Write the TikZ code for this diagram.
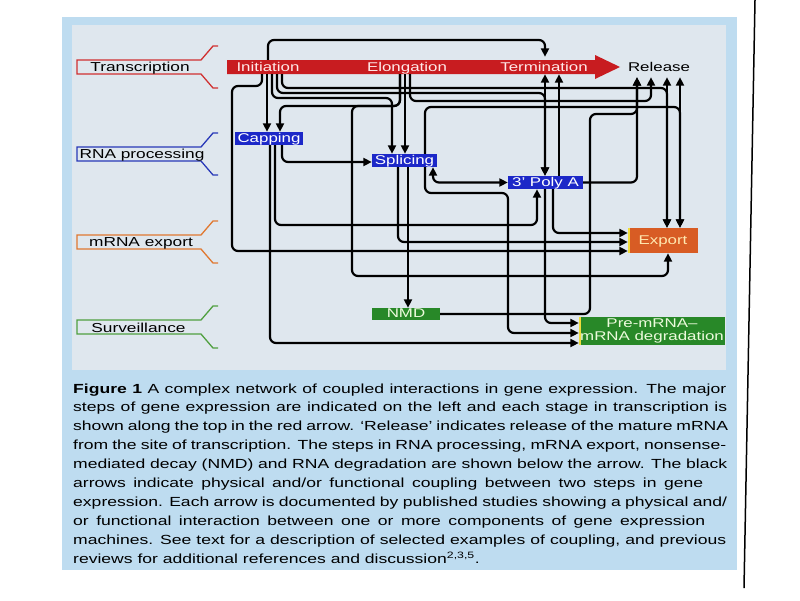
\documentclass[tikz,border=0pt]{standalone}
\usepackage{fontspec}
\setmainfont[FakeStretch=1.33]{Liberation Sans}
\usetikzlibrary{arrows.meta}
\definecolor{panelblue}{RGB}{190,220,240}
\definecolor{innerbg}{RGB}{223,231,238}
\definecolor{arrowred}{RGB}{200,28,32}
\definecolor{boxblue}{RGB}{28,40,200}
\definecolor{boxorange}{RGB}{216,92,36}
\definecolor{boxgreen}{RGB}{40,136,40}
\definecolor{labred}{RGB}{208,48,48}
\definecolor{labblue}{RGB}{40,56,184}
\definecolor{laborange}{RGB}{224,120,48}
\definecolor{labgreen}{RGB}{80,160,64}
\definecolor{paletext}{RGB}{255,232,232}
\definecolor{exptext}{RGB}{255,232,176}
\definecolor{grntext}{RGB}{236,250,220}
\definecolor{misreg}{RGB}{240,220,60}
\newcommand{\capline}[2]{\makebox[#1][s]{#2}}
\begin{document}
\begin{tikzpicture}[x=1pt,y=-1pt,
  conn/.style={line width=2.2pt, rounded corners=6pt, -{Triangle[length=8.5pt,width=8pt]}},
  dconn/.style={line width=2.2pt, rounded corners=6pt, {Triangle[length=8.5pt,width=8pt]}-{Triangle[length=8.5pt,width=8pt]}},
  stagetext/.style={font=\fontsize{12.7}{14}\selectfont, text=paletext, inner sep=0pt, minimum height=14pt, text height=9.3pt, text depth=0pt},
  labtext/.style={font=\fontsize{13}{15}\selectfont, inner sep=0pt, text height=9.3pt, text depth=0pt},
  procbox/.style={inner sep=0pt, text height=10.3pt, text depth=2.7pt, font=\fontsize{12.7}{14}\selectfont, text=white},
  captext/.style={anchor=base west, inner sep=0pt, font=\fontsize{13.2}{16}\selectfont},
  bracket/.style={line width=1.3pt}
]
\useasboundingbox (0,0) rectangle (800,600);
\fill[white] (0,0) rectangle (800,600);
% panel
\fill[panelblue] (62,17) rectangle (737,570);
\fill[innerbg] (72,25) rectangle (726,370);
% page edge
\draw[line width=1.5pt] (755,0) -- (744,588);

% red stage arrow
\fill[arrowred] (227,60) -- (595,60) -- (595,55) -- (620,67) -- (595,79) -- (595,74) -- (227,74) -- cycle;
\node[stagetext] (init) at (268,67) {Initiation};
\node[stagetext] (elong) at (407,67) {Elongation};
\node[stagetext] (term) at (544,67) {Termination};
\node[stagetext, text=black, minimum height=20pt] (release) at (659,67) {Release};

% left labels
\foreach \c/\col in {67/labred, 154/labblue, 242/laborange, 327/labgreen} {
  \draw[bracket, \col] (218,{\c-21}) -- (213,{\c-21}) -- (201,{\c-7}) -- (77,{\c-7}) -- (77,{\c+7}) -- (201,{\c+7}) -- (213,{\c+21}) -- (218,{\c+21});
}
\node[labtext] (ltrans) at (140,67) {Transcription};
\node[labtext] (lproc) at (142,153.5) {RNA processing};
\node[labtext] (lexp) at (141,241.5) {mRNA export};
\node[labtext] (lsurv) at (138.5,327.5) {Surveillance};

% process boxes
\node[procbox, fill=boxblue, minimum width=68pt, minimum height=13pt] (cap) at (269,138.5) {Capping};
\node[procbox, fill=boxblue, minimum width=65pt, minimum height=13pt] (splice) at (404.5,160.5) {Splicing};
\node[procbox, fill=boxblue, minimum width=75pt, minimum height=13pt] (polya) at (545.5,182.5) {3' Poly A};
\node[procbox, fill=boxorange, text=exptext, minimum width=70pt, minimum height=25pt] (export) at (663,240.5) {Export};
\node[procbox, fill=boxgreen, text=grntext, minimum width=68pt, minimum height=12pt, text height=9.8pt, text depth=2.2pt] (nmd) at (406,314) {NMD};
\node[inner sep=0pt, fill=boxgreen, text=grntext, minimum width=146pt, minimum height=28pt, align=center, font=\fontsize{12.7}{12.5}\selectfont] (degr) at (652,331) {Pre-mRNA--\\mRNA degradation};
\draw[misreg, line width=2pt] ([xshift=1pt]export.north west) -- ([xshift=1pt]export.south west);
\draw[misreg, line width=2pt] ([xshift=1pt]degr.north west) -- ([xshift=1pt]degr.south west);

% connectors from Initiation
\draw[conn, shorten >=3pt] (init.north) -- (268,40) -- (545,40) -- ([xshift=1pt]term.north);
\draw[conn] ([xshift=-6pt]init.south) -- (262,86) -- (232,86) -- (232,251) -- ([yshift=-10.5pt]export.west);
\draw[conn] ([xshift=-1pt]init.south) -- ([xshift=-2pt]cap.north);
\draw[conn] ([xshift=4pt]init.south) -- (272,98) -- (392,98) -- ([xshift=-12.5pt]splice.north);
\draw[conn] ([xshift=9pt]init.south) -- (277,93) -- (545,93) -- ([xshift=-0.5pt]polya.north);
\draw[conn] ([xshift=14pt]init.south) -- (282,88) -- (667,88) -- ([xshift=4pt]export.north);

% connectors from Elongation
\draw[conn] ([xshift=-7pt]elong.south) -- (400,106) -- (280,106) -- ([xshift=11pt]cap.north);
\draw[conn] ([xshift=-7pt]elong.south) -- (400,106) -- (352,106) -- (352,276) -- (668,276) -- ([xshift=5pt]export.south);
\draw[conn] ([xshift=-2pt]elong.south) -- ([xshift=0.5pt]splice.north);
\draw[conn] ([xshift=3pt]elong.south) -- (410,101) -- (651,101) -- ([xshift=-8pt]release.south);

% Release / Termination links
\draw[conn] ([xshift=20.5pt]splice.north) -- (425,107) -- (680,107) -- ([xshift=17pt]export.north);
\draw[dconn] ([xshift=8pt]release.south) -- ([xshift=4pt]export.north);
\draw[dconn] ([xshift=21pt]release.south) -- ([xshift=17pt]export.north);
\draw[conn] (polya.east) -- (637,182.5) -- ([xshift=-22pt]release.south);
\draw[conn] (nmd.east) -- (590,314) -- (590,114) -- (637,114) -- ([xshift=-22pt]release.south);
\draw[dconn] ([xshift=1pt]term.south) -- ([xshift=-0.5pt]polya.north);
\draw[conn] ([xshift=13.5pt]polya.north) -- ([xshift=15pt]term.south);

% from Splicing
\draw[conn] ([xshift=-6.5pt]splice.south) -- (398,242) -- ([yshift=-1.5pt]export.west);
\draw[conn] ([xshift=3.5pt]splice.south) -- ([xshift=2pt]nmd.north);
\draw[conn] ([xshift=20.5pt]splice.south) -- (425,193) -- (508,193) -- (508,333) -- ([yshift=-2pt]degr.west);
\draw[dconn] ([xshift=28.5pt]splice.south) -- (433,182.5) -- (polya.west);

% from Capping
\draw[conn] ([xshift=13pt]cap.south) -- (282,162) -- ([yshift=-1.5pt]splice.west);
\draw[conn] ([xshift=6pt]cap.south) -- (275,225) -- (537,225) -- ([xshift=-8.5pt]polya.south);
\draw[conn] ([xshift=1pt]cap.south) -- (270,343) -- ([yshift=-12pt]degr.west);

% from Poly A
\draw[conn] ([xshift=-0.5pt]polya.south) -- (545,323) -- ([yshift=8pt]degr.west);
\draw[conn] ([xshift=7.5pt]polya.south) -- (553,233) -- ([yshift=7.5pt]export.west);

% caption
\node[captext] (c1) at (73,393) {\capline{653pt}{\textbf{Figure 1} A complex network of coupled interactions in gene expression. The major}};
\node[captext] (c2) at (73,411.9) {\capline{654pt}{steps of gene expression are indicated on the left and each stage in transcription is}};
\node[captext] (c3) at (73,430.8) {\capline{655pt}{shown along the top in the red arrow. ‘Release’ indicates release of the mature mRNA}};
\node[captext] (c4) at (73,449.7) {\capline{653pt}{from the site of transcription. The steps in RNA processing, mRNA export, nonsense-}};
\node[captext] (c5) at (73,468.6) {\capline{654pt}{mediated decay (NMD) and RNA degradation are shown below the arrow. The black}};
\node[captext] (c6) at (73,487.5) {\capline{630pt}{arrows indicate physical and/or functional coupling between two steps in gene}};
\node[captext] (c7) at (73,506.4) {\capline{654pt}{expression. Each arrow is documented by published studies showing a physical and/}};
\node[captext] (c8) at (73,525.3) {\capline{632pt}{or functional interaction between one or more components of gene expression}};
\node[captext] (c9) at (73,544.2) {\capline{653pt}{machines. See text for a description of selected examples of coupling, and previous}};
\node[captext] (c10) at (73,563.1) {reviews for additional references and discussion\textsuperscript{2,3,5}.};
\end{tikzpicture}
\end{document}
